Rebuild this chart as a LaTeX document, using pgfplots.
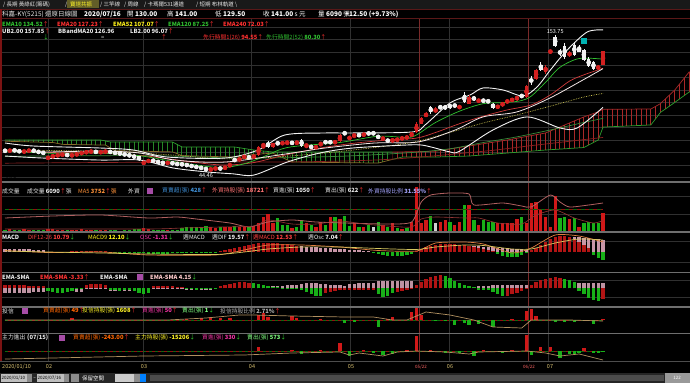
\documentclass[border=0pt]{standalone}
\usepackage{fontspec}
\setmainfont{Noto Sans CJK TC}
\usepackage{pgfplots}
\pgfplotsset{compat=1.18}
\usepackage{pgfplotstable}
\usetikzlibrary{patterns.meta}

\definecolor{gridc}{HTML}{303030}
\definecolor{gridr}{HTML}{7A2A2A}
\definecolor{sep}{HTML}{6E6E6E}
\definecolor{maroon}{HTML}{5A1818}
\definecolor{cred}{HTML}{D42020}
\definecolor{cwhite}{HTML}{F2F2F2}
\definecolor{vred}{HTML}{D01818}
\definecolor{vgreen}{HTML}{18B018}
\definecolor{vwhite}{HTML}{D0D0D0}
\definecolor{pinkb}{HTML}{C896A8}
\definecolor{hgreen}{HTML}{2E9E2E}
\definecolor{hred}{HTML}{A82828}
\definecolor{hbrown}{HTML}{8A6A2A}
\definecolor{ema10c}{HTML}{30C030}
\definecolor{ema20c}{HTML}{D03A3A}
\definecolor{ema52c}{HTML}{C8C050}
\definecolor{ema120c}{HTML}{3A8A3A}
\definecolor{ema240c}{HTML}{8A2020}
\definecolor{tanc}{HTML}{B09060}
\definecolor{upc}{HTML}{FF3030}
\definecolor{dnc}{HTML}{30D030}
\definecolor{txtc}{HTML}{E8E8E8}
\definecolor{labc}{HTML}{D8C070}

\newcommand{\up}{\textcolor{upc}{↑}}
\newcommand{\dn}{\textcolor{dnc}{↓}}
\newcommand{\lbl}[4]{\node[anchor=west,inner sep=0pt,text=#3] at (#1,{383-#2}) {#4};}

\pgfplotstableread{
i o h l c
0 61.5 62.5 60.5 61
1 61 62.5 60.5 62
2 62 62.5 61 61.5
3 61.5 62 60 60.5
4 60.5 61.5 60 61
5 61 62.5 60.5 62
6 62 62.5 60.5 61
7 61 61.5 59.5 60
8 60 60.5 59 59.5
9 55 57 54.5 56.5
10 56.5 58 56 57.5
11 57.5 58.5 57 58
12 58 59 57.5 58.5
13 58.5 59 57 57.5
14 57.5 58.5 57 58
15 58 59.5 57.5 59
16 59 60.5 58.5 60
17 60 61 59.5 60.5
18 60.5 61.5 60 61
19 61 61.5 59.5 60
20 60 61 59.5 60.5
21 60.5 61.5 60 61
22 61 61.5 59.5 60
23 60 60.5 59 59.5
24 59.5 60 58.5 59
25 59 59.5 57.5 58
26 58 58.5 57 57.5
27 57.5 58 55.5 56
28 57 57.5 53.5 54
29 51 53 50.5 52.5
30 52.5 54.5 52 54
31 54 54.5 52.5 53
32 53 53.5 51.5 52
33 52 52.5 51 51.5
34 51.5 52.5 51 52
35 52 52.5 50.5 51
36 51 51.5 50 50.8
37 50.8 51 50 50.5
38 50.5 51 49 49.5
39 49.5 50 48.5 49
40 49 49.5 47.5 48
41 48 48.5 47 47.5
42 48 48.5 44.46 46
43 46 47.5 45.5 47
44 47 48 46.5 47.5
45 47.5 48 46.5 47
46 47 49 46.5 49
47 49 51 48.5 51
48 55 55.5 52.5 53
49 53 56.5 52.5 56
50 56 57.5 55.5 57
51 57 57.5 55 55.5
52 55.5 58.5 55 58
53 58 65 57.5 64.5
54 64.5 68 64 65
55 68 69 64 64.5
56 64.5 68 64 67.5
57 68 68.5 66 67
58 67 68.5 66.5 67.8
59 67.5 69 67 67.8
60 67.8 68.5 67 67.5
61 67.5 69 67 67.8
62 70 71 64.5 65
63 65 67 64.5 65.3
64 65.5 66 63 63.5
65 63.5 65.5 63 65
66 66 68.5 65.5 67
67 68.5 69 67.5 68
68 68.5 69 67.5 68
69 68 69 67.5 68.5
70 69 74.5 68.5 74
71 76 77 74 74.5
72 71 73 70.5 72
73 73 75 72.5 73.5
74 74 75 73 73.5
75 73.5 75.5 73 75
76 75.5 76 74.5 75
77 75.5 76.5 74.5 75
78 73.5 74 71 71.5
79 71 72 70.5 71.2
80 70 70.5 68.5 69
81 69.5 70.5 69 69.8
82 70 71 69.5 70.5
83 71 72 70.5 71.5
84 71.5 73 71 72.5
85 72.5 76.5 72 76
86 76 84 75.5 83
87 83 88 82.5 87.5
88 89 92 88 91
89 96 97 91 92
90 92 96 91.5 95
91 97 98 94.5 95
92 97 98 94 95
93 98 99 95 96
94 98.5 99 96 96.5
95 95 98 94.5 97.5
96 106 108 99.5 100
97 99 106 98.5 104.5
98 104 105 101.5 102
99 101 103 100 101.5
100 102 103 100 100.5
101 101 102 100 100.5
102 99 99.5 95 95.5
103 95.5 98 95 97.5
104 97 100.5 96.5 100
105 100 102 99.5 101.5
106 101 103.5 100.5 103
107 102 105.5 101.5 104.5
108 106 107 103.5 104
109 104 114 103.5 113
110 119 121 114 116
111 119 127 118 126
112 130 132 125 126
113 124 130 123 128.5
114 140.3 140.8 140.3 140.8
115 152 153.75 144 145
116 140 143 137 139.5
117 145 147 135 136.5
118 137 141 136 140
119 146 148 137 138
120 143.5 146 140 140.5
121 142 143 133 134
122 134.5 136 128 129
123 132 133 126 127
124 127 130 126 128.5
125 130 141 129.5 141
}\candles

\pgfplotstableread{
i v col
0 815 0
1 978 1
2 815 0
3 652 0
4 978 1
5 815 1
6 652 0
7 652 0
8 815 0
9 1141 1
10 978 1
11 815 1
12 652 1
13 652 0
14 652 1
15 815 1
16 978 1
17 815 1
18 652 1
19 652 0
20 652 1
21 815 1
22 652 0
23 652 0
24 489 0
25 652 0
26 652 0
27 978 0
28 1141 0
29 1304 1
30 978 1
31 815 0
32 815 0
33 652 0
34 652 1
35 815 0
36 652 0
37 1304 0
38 1630 0
39 1630 0
40 1793 0
41 1630 0
42 1956 0
43 1630 1
44 1467 1
45 1630 0
46 1630 1
47 1793 1
48 1956 0
49 1793 1
50 1630 1
51 1630 0
52 1956 1
53 2934 1
54 4890 1
55 6031 1
56 3097 1
57 4564 0
58 2282 0
59 2282 0
60 1304 1
61 1630 0
62 4075 0
63 2934 1
64 2282 0
65 1630 1
66 3423 1
67 2282 0
68 4890 1
69 4890 0
70 4238 1
71 5216 0
72 1956 0
73 2836 1
74 1728 0
75 1728 1
76 2282 0
77 1532 2
78 3358 0
79 2282 1
80 1728 0
81 2836 1
82 1206 0
83 880 1
84 1206 0
85 3358 1
86 14670 1
87 3032 1
88 3912 1
89 5216 0
90 2836 2
91 3358 1
92 3912 1
93 3358 0
94 2282 1
95 3358 1
96 8802 0
97 8802 1
98 3912 0
99 2282 1
100 3912 0
101 3358 0
102 3358 0
103 2836 1
104 2836 1
105 2836 1
106 2836 1
107 4140 1
108 4988 0
109 2836 1
110 9552 1
111 9878 1
112 7172 1
113 4988 1
114 1728 1
115 11736 1
116 4466 0
117 4792 0
118 4140 1
119 4466 0
120 1728 1
121 3032 0
122 3358 0
123 3032 0
124 3032 0
125 6090 1
}\vol

\pgfplotstableread{
i d w
0 0 3
1 0 3
2 0 3
3 0 2.5
4 0 2.5
5 0 2.5
6 0 2
7 0 2
8 0 2
9 -1 0
10 -1 0
11 -1 0
12 -0.5 0
13 -0.5 0
14 0.5 0
15 0.5 0
16 1 0
17 1 0
18 1 0
19 0.5 0
20 0.5 0
21 0.5 0
22 -0.5 0
23 -0.5 0
24 -1 0
25 -1 0
26 -1 0
27 -1.5 0
28 -1.5 0
29 -1.5 0
30 -2 0
31 -2 0
32 -2 0
33 -2 0
34 -2 0
35 -1.5 0
36 -1.5 0
37 -1.5 0
38 -1.5 0
39 -1.5 0
40 -1.5 0
41 -1 0
42 -1 0
43 -1 0
44 -0.5 0
45 1 0
46 2 0
47 3 0
48 4 0
49 5 0
50 6 0
51 7 0
52 8 0
53 8.5 0
54 9 0
55 9 0
56 9 0
57 8.5 0
58 8 0
59 7.5 0
60 7 0
61 6 0
62 0 5.5
63 0 5
64 0 5
65 0 4.5
66 0 4
67 0 4
68 0 3.5
69 0 3
70 0 3
71 0 2.5
72 0 2
73 0 2
74 0 1.5
75 0 1
76 0 1
77 -1 0
78 -2 0
79 -3 0
80 -4 0
81 -4.5 0
82 -4.5 0
83 -4 0
84 -3 0
85 -2 0
86 1 0
87 3 0
88 5 0
89 6 0
90 7 0
91 8 0
92 8 0
93 8 0
94 7.5 0
95 7 0
96 6.5 0
97 6 6
98 5 6
99 4 5.5
100 3 5
101 2 5
102 1 4.5
103 -2 4
104 -4 4
105 -5 3.5
106 -5.5 3
107 -5 3
108 -3.5 2.5
109 -1.5 2
110 2 1.5
111 4 0
112 7 0
113 10 0
114 13 0
115 15 0
116 16 0
117 16 0
118 15 15
119 13 15
120 10 14.5
121 7 14
122 4 13.5
123 -3 13
124 -6 12.5
125 -8 12
}\macd

\pgfplotstableread{
i d col p
0 3 1 -5
1 3 1 -5
2 3 1 -5
3 3 1 -5
4 3 1 -4.5
5 2.5 1 -4.5
6 2.5 1 -4
7 2 1 -4
8 2 1 -3.5
9 -3 0 -2
10 -4 0 -2
11 -4.5 0 -2
12 -5 0 -2
13 -4 0 -2
14 -3 0 -2
15 -1 0 -4
16 -1 0 -4
17 3 1 -1
18 4 1 -1
19 4.5 1 -1
20 4 1 -1
21 3 1 -1
22 -2 0 -3
23 -2 0 -3
24 -2.5 0 -3
25 -2 0 -3
26 -2 0 -3
27 -2.5 0 -3
28 -5 0 -2
29 -6 0 -2
30 -5 0 -2
31 2 1 -1
32 2 1 -1
33 2.5 1 -1
34 2 1 -1
35 2 1 -1
36 1.5 1 -1
37 1.5 1 -1
38 -1 0 -2
39 -1 0 -2
40 -1.5 0 -2
41 -1 0 -2
42 -1 0 -2
43 -1 0 -2
44 -0.5 0 -1
45 2 1 0
46 3 1 0
47 4 1 0
48 5 1 0
49 6 1 0
50 6 1 0
51 5 1 0
52 5 0 1
53 4 0 1
54 3 0 1
55 2 0 1
56 1 0 2
57 1 0 2
58 0.5 0 2.5
59 0.5 0 3
60 0.5 0 3
61 0.5 0 3
62 -2 0 4
63 -4 0 5
64 -6 0 5
65 -7 0 5
66 -7 0 4
67 -5 1 4
68 -4 1 3
69 -3 1 3
70 -2 1 3
71 -2 1 2
72 -2 1 4
73 -2 1 4.5
74 -2 1 5
75 -1.5 1 5
76 -1.5 1 5
77 -2 1 5
78 -6 0 7
79 -8 0 7
80 -7 0 7
81 -5 0 7
82 -4 1 7
83 -3 1 7
84 -2 1 7
85 -1 1 7
86 3 1 0
87 6 1 0
88 9 1 0
89 11 1 0
90 12 1 0
91 13 1 0
92 12 0 0
93 10 0 0
94 7 0 0
95 5 0 0
96 3 0 0
97 2 0 0
98 1 0 0
99 -2 0 2
100 -2 0 2
101 -2 0 2
102 -4 0 3
103 -6 0 3
104 -7 0 3
105 -7 1 3
106 -6 1 3
107 -5 1 3
108 -3 1 3
109 -1 1 3
110 3 1 0
111 6 1 0
112 8 1 0
113 9 1 0
114 10 1 0
115 11 1 0
116 10 1 0
117 9 0 4
118 8 0 4
119 6 0 5
120 -3 0 5
121 -6 0 5
122 -9 0 5
123 -11 0 5
124 -12 0 5
125 -10 1 5
}\emasma

\pgfplotstableread{
i u l
0 70 69
10 70 68
12 70 66.5
20 70 66
21 69.2 66
22 68.4 63.7
23 68.4 61.5
35 68.4 60.5
37 64.4 57.5
48 64.4 56.4
52 62 58.5
56 60.4 59.5
60 60.4 52.4
78 60.4 51.6
81 60.4 54.5
83 60.5 56.4
90 61 56.4
97 65.2 57.2
105 70 59.6
113 75.6 62
117 82 63
121 88.4 64
124 92.5 70
125 94.55 80.3
135 94.7 82
137 99 92
140 109.9 100
143 124.3 108.3
151 126 110
}\cloud

\pgfplotsset{
 panel/.style={scale only axis, width=690pt, xmin=-1.045, xmax=143.18,
   anchor=south west, axis line style={draw=none}, tick style={draw=none},
   major tick length=0pt,
   xtick={9,28.8,51.4,72.1,92.8,113.5}, xticklabels={}, yticklabels={},
   xmajorgrids, ymajorgrids, major grid style={color=gridc, line width=0.5pt},
   extra x ticks={86.7,109.3}, extra x tick labels={},
   extra x tick style={xmajorgrids=true, major grid style={color=gridr, line width=0.7pt}}},
 candle/.style={forget plot, only marks, mark=none, error bars/y dir=both, error bars/y explicit, error bars/error mark=none, error bars/error bar style={line width=#1, solid, line cap=butt}},
}

\begin{document}
\begin{tikzpicture}[font=\fontsize{6}{7}\selectfont]
\fill[black] (0pt,0pt) rectangle (690pt,383pt);
\fill[black!90!white] (0pt,374pt) rectangle (690pt,383pt);

% ===== main price panel =====
\begin{axis}[panel, at={(0pt,201pt)}, height=163pt, ymin=36.48, ymax=166.55, ytick={40,50,...,160}]
% cloud (upper span forward, lower span back)
\addplot[pattern={Lines[angle=90,distance=4.784pt,line width=0.6pt]}, pattern color=hgreen!85!black, draw=none, forget plot] coordinates {(0,70)(10,70)(12,70)(20,70)(21,69.2)(22,68.4)(23,68.4)(35,68.4)(37,64.4)(48,64.4)(52,62)(56,60.4)(60,60.4)(78,60.4)(81,60.4)(81,54.5)(78,51.6)(60,52.4)(56,59.5)(52,58.5)(48,56.4)(37,57.5)(35,60.5)(23,61.5)(22,63.7)(21,66)(20,66)(12,66.5)(10,68)(0,69)} -- cycle;
\addplot[pattern={Lines[angle=90,distance=4.784pt,line width=0.6pt]}, pattern color=hred, draw=none, forget plot] coordinates {(81,60.4)(83,60.5)(90,61)(97,65.2)(105,70)(113,75.6)(117,82)(121,88.4)(124,92.5)(125,94.55)(135,94.7)(137,99)(140,109.9)(143,124.3)(151,126)(151,110)(143,108.3)(140,100)(137,92)(135,82)(125,80.3)(124,70)(121,64)(117,63)(113,62)(105,59.6)(97,57.2)(90,56.4)(83,56.4)(81,54.5)} -- cycle;
\addplot[hgreen, line width=0.7pt, restrict x to domain=-2:81] table[x=i,y=u]{\cloud};
\addplot[hbrown, line width=0.7pt, restrict x to domain=-2:81] table[x=i,y=l]{\cloud};
\addplot[hred, line width=0.7pt, restrict x to domain=81:152] table[x=i,y=u]{\cloud};
\addplot[hgreen, line width=0.7pt, restrict x to domain=81:152] table[x=i,y=l]{\cloud};
% EMAs
\addplot[ema240c, line width=0.7pt, smooth, tension=0.5] coordinates {(0,51.5)(40,52.5)(60,52.5)(80,54.5)(100,61)(110,65.5)(125,72.03)};
\addplot[ema120c, line width=0.7pt, smooth, tension=0.5] coordinates {(0,57)(30,57.5)(50,55.5)(70,57)(85,60)(93,63)(100,68)(107,72.5)(114,78)(121,84)(125,87.25)};
\addplot[ema52c, line width=0.7pt, densely dotted, smooth, tension=0.5] coordinates {(0,62)(20,61)(35,58)(45,55)(55,56)(65,59)(75,63)(85,68)(93,76)(100,83.6)(107,90)(114,97)(121,104.3)(125,107.07)};
\addplot[ema20c, line width=0.7pt, smooth, tension=0.5] coordinates {(0,61.5)(10,60)(20,59.5)(30,57)(40,52)(46,50)(52,52)(58,57.5)(65,63)(72,67)(80,70)(86,71.5)(90,76)(95,83)(100,89)(105,94)(110,98)(114,106)(118,117)(121,122)(125,127.23)};
\addplot[ema10c, line width=0.7pt, smooth, tension=0.5] coordinates {(0,61)(9,59.5)(20,59.5)(28,57.5)(35,53)(42,49)(46,48)(50,51)(53,55)(58,63)(62,65.5)(70,68)(78,73)(84,72)(86,74)(90,84)(95,93)(100,99)(105,100)(108,101.5)(110,105)(113,116)(116,128)(120,135)(125,134.52)};
% Bollinger
\addplot[cwhite, line width=0.9pt, smooth, tension=0.5] coordinates {(0,67.6)(5.9,65.2)(19.9,63.6)(26.8,62)(33.9,56.4)(46,55.6)(52.9,62)(58.5,74)(66.9,75.6)(72.1,75.6)(85.1,76.4)(87.8,82)(93,99.5)(97.2,105.9)(99.9,111.5)(104.1,109.9)(108.3,105.1)(111.2,112.3)(114,125.9)(117.5,141.8)(121.7,156.2)(125,157.85)};
\addplot[cwhite!80!pink, line width=0.8pt, smooth, tension=0.5] coordinates {(0,62)(7.3,60.4)(19.9,61.2)(28.2,59.6)(35.5,54)(46,52.4)(60,59.6)(66.9,63.6)(77.3,67.6)(86.3,68.4)(94.1,78)(99.9,88.4)(107,92.4)(113.9,103.5)(120.8,117.9)(125,126.96)};
\addplot[cwhite, line width=0.9pt, smooth, tension=0.5] coordinates {(0,57.2)(7.9,55.6)(19.9,54)(28.2,54)(35.1,47.7)(42.2,44.5)(47.7,43)(52,42)(59,52.4)(65.8,59.6)(72.7,63.6)(84,66)(87,66)(89.5,64)(93,60.5)(95,61)(102,78)(109.1,88.4)(116,79.6)(119.6,79.6)(125,96.07)};
% candles: wicks
\addplot[color=cwhite, restrict expr to domain={\thisrow{c}-\thisrow{o}}{-1000:-0.001}, candle=0.7pt] table[x=i, y expr={(\thisrow{h}+\thisrow{l})/2}, y error expr={(\thisrow{h}-\thisrow{l})/2}]{\candles};
\addplot[color=cred, restrict expr to domain={\thisrow{c}-\thisrow{o}}{0:1000}, candle=0.7pt] table[x=i, y expr={(\thisrow{h}+\thisrow{l})/2}, y error expr={(\thisrow{h}-\thisrow{l})/2}]{\candles};
% candles: bodies
\addplot[color=cwhite, restrict expr to domain={\thisrow{c}-\thisrow{o}}{-1000:-0.001}, candle=3.4pt] table[x=i, y expr={(\thisrow{o}+\thisrow{c})/2}, y error expr={max(abs(\thisrow{c}-\thisrow{o})/2,1.0)}]{\candles};
\addplot[color=cred, restrict expr to domain={\thisrow{c}-\thisrow{o}}{0:1000}, candle=3.4pt] table[x=i, y expr={(\thisrow{o}+\thisrow{c})/2}, y error expr={max(abs(\thisrow{c}-\thisrow{o})/2,1.0)}]{\candles};
\addplot[only marks, mark=square*, mark size=2.6pt, color=teal!60!cyan] coordinates {(121,149.5)};
\node[anchor=south, inner sep=1pt, text=white, font=\fontsize{5.5}{6}\selectfont] at (axis cs:115,153.75) {153.75};
\node[anchor=north, inner sep=1pt, text=white, font=\fontsize{5.5}{6}\selectfont] at (axis cs:42,44.46) {44.46};
\end{axis}

% ===== volume panel =====
\begin{axis}[panel, at={(0pt,151pt)}, height=49pt, ymin=0, ymax=15974, ytick={5868,11736}]
\addplot[ycomb, vred, line width=3.3pt, restrict expr to domain={\thisrow{col}}{0.5:1.5}] table[x=i,y=v]{\vol};
\addplot[ycomb, vgreen, line width=3.3pt, restrict expr to domain={\thisrow{col}}{-0.5:0.5}] table[x=i,y=v]{\vol};
\addplot[ycomb, vwhite, line width=3.3pt, restrict expr to domain={\thisrow{col}}{1.5:2.5}] table[x=i,y=v]{\vol};
\addplot[vgreen!60!black, line width=0.8pt, dash pattern=on 4pt off 4pt] coordinates {(0,7500)(125,7500)};
\addplot[vred!70!black, line width=0.8pt, dash pattern=on 4pt off 4pt, dash phase=4pt] coordinates {(0,7500)(125,7500)};
\addplot[color={rgb,255:red,176;green,96;blue,96}, line width=0.8pt, smooth, tension=0.4] coordinates {(0,4564)(10,5216)(20,5542)(30,4564)(36,4890)(40,4238)(47,2934)(51,1630)(55,3260)(60,3912)(65,3260)(71,2934)(80,2608)(85,3260)(87,9780)(89,12062)(93,12714)(97,12388)(98,8802)(104,9454)(108,8476)(110,8150)(114,12062)(116,9780)(118,8150)(122,8802)(125,9454)};
\addplot[ema240c!90!white, line width=0.6pt, smooth, tension=0.4] coordinates {(0,978)(30,978)(37,1304)(45,1630)(52,1956)(55,3912)(60,2608)(65,2608)(70,3586)(75,2608)(80,1956)(85,1630)(87,4238)(90,4890)(96,4564)(99,4564)(103,2934)(108,2608)(111,5542)(115,7172)(119,4564)(123,2934)(125,3752)};
\end{axis}

% ===== MACD panel =====
\begin{axis}[panel, at={(0pt,111pt)}, height=39pt, ymin=-20, ymax=19, ytick={-10,11}]
\addplot[ycomb, pinkb, line width=3.3pt, restrict expr to domain={\thisrow{w}}{0.001:100}] table[x=i,y=w]{\macd};
\addplot[ycomb, vred!85!black, line width=3.3pt, restrict expr to domain={\thisrow{d}}{0.001:100}] table[x=i,y=d]{\macd};
\addplot[ycomb, vgreen, line width=3.3pt, restrict expr to domain={\thisrow{d}}{-100:-0.001}] table[x=i,y=d]{\macd};
\addplot[color={rgb,255:red,224;green,128;blue,64}, line width=0.7pt, smooth, tension=0.4] coordinates {(0,1.5)(9,-0.5)(20,0)(30,-3)(44,-3)(50,2)(55,7)(62,7)(70,5)(78,1.5)(86,1)(90,9)(96,10)(100,8)(106,-1)(110,4)(115,17)(120,16)(125,10)};
\addplot[color={rgb,255:red,216;green,200;blue,96}, line width=0.7pt, smooth, tension=0.4] coordinates {(0,1)(9,0)(20,-1)(30,-2)(44,-2.5)(50,0)(55,3)(62,5)(70,5)(78,3.5)(86,2.5)(90,5)(96,7)(100,6.5)(106,3)(110,3)(115,9)(120,13)(125,12)};
\end{axis}

% ===== EMA-SMA panel =====
\begin{axis}[panel, at={(0pt,76pt)}, height=34pt, ymin=-18.5, ymax=15.5, ytick={-9,8.5}]
\addplot[ycomb, pinkb!85!gray, line width=3.3pt, restrict expr to domain={abs(\thisrow{p})}{0.001:100}] table[x=i,y=p]{\emasma};
\addplot[ycomb, vred!85!black, line width=3.3pt, restrict expr to domain={\thisrow{col}}{0.5:1.5}] table[x=i,y=d]{\emasma};
\addplot[ycomb, vgreen, line width=3.3pt, restrict expr to domain={\thisrow{col}}{-0.5:0.5}] table[x=i,y=d]{\emasma};
\end{axis}

% ===== 投信 panel =====
\begin{axis}[panel, at={(0pt,50pt)}, height=25pt, ymin=-13, ymax=12, ytick=\empty]
\addplot[vgreen!60!black, line width=0.7pt, dash pattern=on 3pt off 3pt] coordinates {(0,0)(125,0)};
\addplot[vred!70!black, line width=0.7pt, dash pattern=on 3pt off 3pt, dash phase=3pt] coordinates {(0,0)(125,0)};
\addplot[ycomb, vred, line width=3.3pt] coordinates {(14,2)(38,1)(41,2)(43,3)(45,2)(47,2.5)(53,5)(54,7)(55,3)(60,4)(61,2)(66,1)(80,1)(81,3)(85,8)(86,12)(87,5)(106,1)(109,9)(110,11)(111,4)(125,1)};
\addplot[ycomb, vgreen, line width=3.3pt] coordinates {(71,-3)(73,-2)(78,-7)(90,-1)(92,-1)(94,-5)(96,-3)(97,-5)(99,-4)(102,-7)(115,-2)(117,-2)(119,-2)(123,-4)};
\addplot[tanc, line width=0.7pt] coordinates {(0,0)(34,0)(42,2)(49,5)(52,5)(60,4)(71,3)(77,3)(81,0)(84,0)(88,8)(93,5)(98,0)(102,-7)(108,-8)(110,0)(118,0)(125,-1)};
\end{axis}

% ===== 主力進出 panel =====
\begin{axis}[panel, at={(0pt,22pt)}, height=27pt, ymin=-10, ymax=17, ytick=\empty]
\addplot[vgreen!60!black, line width=0.7pt, dash pattern=on 3pt off 3pt] coordinates {(0,0)(125,0)};
\addplot[vred!70!black, line width=0.7pt, dash pattern=on 3pt off 3pt, dash phase=3pt] coordinates {(0,0)(125,0)};
\addplot[ycomb, vred, line width=3.3pt] coordinates {(53,4)(60,1.5)(66,1)(70,8)(75,1.5)(84,1)(86,15)(89,1.5)(100,1)(106,1.5)(109,16)(112,4)(114,4)(121,3)};
\addplot[ycomb, vgreen, line width=3.3pt] coordinates {(62,-3)(72,-5)(77,-2)(79,-4)(81,-3)(92,-1.5)(95,-2)(98,-5)(104,-2)(110,-4)(116,-7)(118,-3)(119,-3)(120,-2)(123,-2)(124,-2)(125,-1)};
\addplot[tanc, line width=0.7pt] coordinates {(0,-8)(10,-7)(29,-5)(50,-4)(60,-2)(65,-1.5)(70,-1)(72,-4)(74,-2)(79,-5)(82,-1)(86,0)(92,-1)(97,-3)(99,-1)(109,0)(113,-2)(116,-5)(120,-3)(125,-9)};
\end{axis}

\begin{scope}[x=1pt,y=1pt]
% ===== frame lines =====
\draw[maroon, line width=0.8pt] (0,374) -- (690,374);
\draw[maroon, line width=0.8pt] (0,364.5) -- (690,364.5);
\foreach \yy in {182,232,272.5,307,333.5} {\draw[sep, line width=1.6pt] (0,{383-\yy}) -- (690,{383-\yy});}
\draw[sep!70!black, line width=1pt] (0,22) -- (690,22);
\draw[maroon!80!red, line width=1.5pt] (1,22) -- (1,374);

% ===== tab bar =====
\begin{scope}[font=\fontsize{5.5}{6}\selectfont]
\fill[olive!60!black] (67,375) rectangle (99,383);
\lbl{3}{4.5}{txtc}{/ 長期 黃綠紅(籌碼)}
\lbl{65}{4.5}{txtc}{/}
\lbl{70}{4.5}{yellow!85!white}{寶塔共振}
\lbl{100}{4.5}{txtc}{/ 三竿線}
\lbl{124}{4.5}{txtc}{/ 周線}
\lbl{144}{4.5}{txtc}{/ 卡瑪爾531通道}
\lbl{196}{4.5}{txtc}{/ 短期 布林軌道 \textbackslash}
\end{scope}

% ===== info line =====
\begin{scope}[font=\fontsize{6.5}{7}\selectfont]
\lbl{2}{14.5}{txtc}{科嘉-KY(5215)}
\lbl{45}{14.5}{txtc}{還原日線圖}
\lbl{84}{14.5}{white}{\textbf{2020/07/16}}
\lbl{127}{14.5}{white}{開 \textbf{130.00}}
\lbl{167}{14.5}{white}{高 \textbf{141.00}}
\lbl{215}{14.5}{white}{低 \textbf{129.50}}
\lbl{263}{14.5}{white}{收 \textbf{141.00} s 元}
\lbl{318}{14.5}{white}{量 \textbf{6090} 張}
\lbl{345}{14.5}{white}{\textbf{+12.50 (+9.73\%)}}
\end{scope}

% ===== legends =====
\begin{scope}[font=\fontsize{5.8}{6}\selectfont]
\lbl{2}{24}{ema10c}{\textbf{EMA10 134.52}\up}
\lbl{57}{24}{upc}{\textbf{EMA20 127.23}\up}
\lbl{113}{24}{yellow!90!white}{\textbf{EMA52 107.07}\up}
\lbl{168}{24}{ema10c}{\textbf{EMA120 87.25}\up}
\lbl{223}{24}{upc}{\textbf{EMA240 72.03}\up}
\lbl{2}{31}{txtc}{\textbf{UB2.00 157.85}\up}
\lbl{58}{31}{txtc}{\textbf{BBandMA20 126.96}}
\lbl{130}{31}{txtc}{\textbf{LB2.00 96.07}\up}
\lbl{43}{37.5}{dnc}{↓}
\lbl{101}{37.5}{txtc}{=}
\lbl{161}{37.5}{upc}{↑}
\lbl{203}{37.5}{upc}{先行時間1(26) \textbf{94.55}↑}
\lbl{266}{37.5}{ema10c}{先行時間2(52) \textbf{80.30}\up}

\fill[violet!70!white] (147,{383-194}) rectangle (153,{383-188});
\lbl{2}{191}{txtc}{成交量}
\lbl{27}{191}{txtc}{成交量 \textbf{6090}\up 張}
\lbl{78}{191}{orange!70!pink}{MA5 \textbf{3752}\up 張}
\lbl{128}{191}{txtc}{外資}
\lbl{162}{191}{cyan!60!blue!80!white}{買賣超(張) \textbf{428}\up}
\lbl{212}{191}{red!55!white}{外資持股(張) \textbf{18721}\up}
\lbl{273}{191}{txtc}{買進(張) \textbf{1050}\up}
\lbl{325}{191}{txtc}{賣出(張) \textbf{622}\up}
\lbl{368}{191}{blue!35!white}{外資持股比例 \textbf{31.55\%}\up}

\lbl{2}{237}{txtc}{\textbf{MACD}}
\lbl{28}{237}{red!75!white}{DIF12-26 \textbf{10.79}\dn}
\lbl{88}{237}{yellow!90!white}{MACD9 \textbf{12.10}\dn}
\lbl{140}{237}{magenta!80!white}{OSC \textbf{-1.31}\dn}
\lbl{183}{237}{txtc}{週MACD}
\lbl{212}{237}{txtc}{週DIF \textbf{19.57}\up}
\lbl{253}{237}{red!75!white}{週MACD \textbf{12.53}\up}
\lbl{308}{237}{txtc}{週Osc \textbf{7.04}\up}

\fill[violet!70!white] (137,{383-280}) rectangle (143,{383-274});
\lbl{2}{277}{txtc}{\textbf{EMA-SMA}}
\lbl{40}{277}{red!80!white}{\textbf{EMA-SMA -3.33}\up}
\lbl{100}{277}{txtc}{\textbf{EMA-SMA}}
\lbl{150}{277}{pink!80!white}{\textbf{EMA-SMA 4.15}\dn}

\fill[violet!70!white] (22,{383-314}) rectangle (28,{383-308});
\lbl{2}{311}{txtc}{投信}
\lbl{43}{311}{orange!80!red}{買賣超(張) \textbf{49}\up}
\lbl{82}{311}{yellow!85!white}{投信持股(張) \textbf{1608}\up}
\lbl{142}{311}{magenta!80!white}{買進(張) \textbf{50}\up}
\lbl{182}{311}{green!50!white}{賣出(張) \textbf{1}\dn}
\lbl{220}{311}{gray!60!white}{投信持股比例 \textbf{2.71\%}\up}

\fill[violet!70!white] (59,{383-340.5}) rectangle (65,{383-334.5});
\lbl{2}{337.5}{txtc}{主力進出}
\lbl{27}{337.5}{txtc}{\textbf{(07/15)}}
\lbl{73}{337.5}{orange!80!red}{買賣超(張) \textbf{-243.00}\up}
\lbl{135}{337.5}{yellow!85!white}{主力持股(張) \textbf{-15206}\dn}
\lbl{202}{337.5}{magenta!80!white}{買進(張) \textbf{330}\dn}
\lbl{247}{337.5}{green!50!white}{賣出(張) \textbf{573}\dn}
\end{scope}

% ===== x labels =====
\begin{scope}[font=\fontsize{5.5}{6}\selectfont]
\node[anchor=west,inner sep=0pt,text=labc] at (2,{383-367}) {2020/01/10};
\node[inner sep=0pt,text=labc] at (49,{383-367}) {02};
\node[inner sep=0pt,text=labc] at (144,{383-367}) {03};
\node[inner sep=0pt,text=labc] at (252,{383-367}) {04};
\node[inner sep=0pt,text=labc] at (351,{383-367}) {05};
\node[inner sep=0pt,text=red!60!white,font=\fontsize{4.5}{5}\selectfont] at (421,{383-367}) {05/22};
\node[inner sep=0pt,text=labc] at (450,{383-367}) {06};
\node[inner sep=0pt,text=red!60!white,font=\fontsize{4.5}{5}\selectfont] at (529,{383-367}) {06/22};
\node[inner sep=0pt,text=labc] at (550,{383-367}) {07};
\end{scope}

% ===== bottom bar =====
\fill[black!85!white] (0,0) rectangle (690,10);
\fill[black!25!white] (1,1) rectangle (27,9);
\fill[black!45!white] (27,1) rectangle (32,9);
\fill[black!25!white] (37,1) rectangle (64,9);
\fill[black!45!white] (64,1) rectangle (69,9);
\fill[black!45!white] (71,1) rectangle (79,9);
\fill[black!20!white] (115,1) rectangle (134,9);
\fill[black!45!white] (134,1) rectangle (140,9);
\fill[blue!50!cyan] (140,1) rectangle (146,9);
\fill[black!70!white] (150,2) rectangle (664,8);
\fill[black!40!white] (665,0) rectangle (690,10);
\begin{scope}[font=\fontsize{4.5}{5}\selectfont]
\node[anchor=west,inner sep=0pt,text=black] at (1.5,5) {2020/01/10};
\node[inner sep=0pt,text=white] at (34.5,5) {\textasciitilde};
\node[anchor=west,inner sep=0pt,text=black] at (37.5,5) {2020/07/16};
\node[anchor=west,inner sep=0pt,text=white,font=\fontsize{5.5}{6}\selectfont] at (82,5) {保留空間};
\node[inner sep=0pt,text=white] at (677,5) {122};
\end{scope}
\end{scope}

\pgfresetboundingbox
\path[use as bounding box] (0pt,0pt) rectangle (690pt,383pt);
\end{tikzpicture}
\end{document}
